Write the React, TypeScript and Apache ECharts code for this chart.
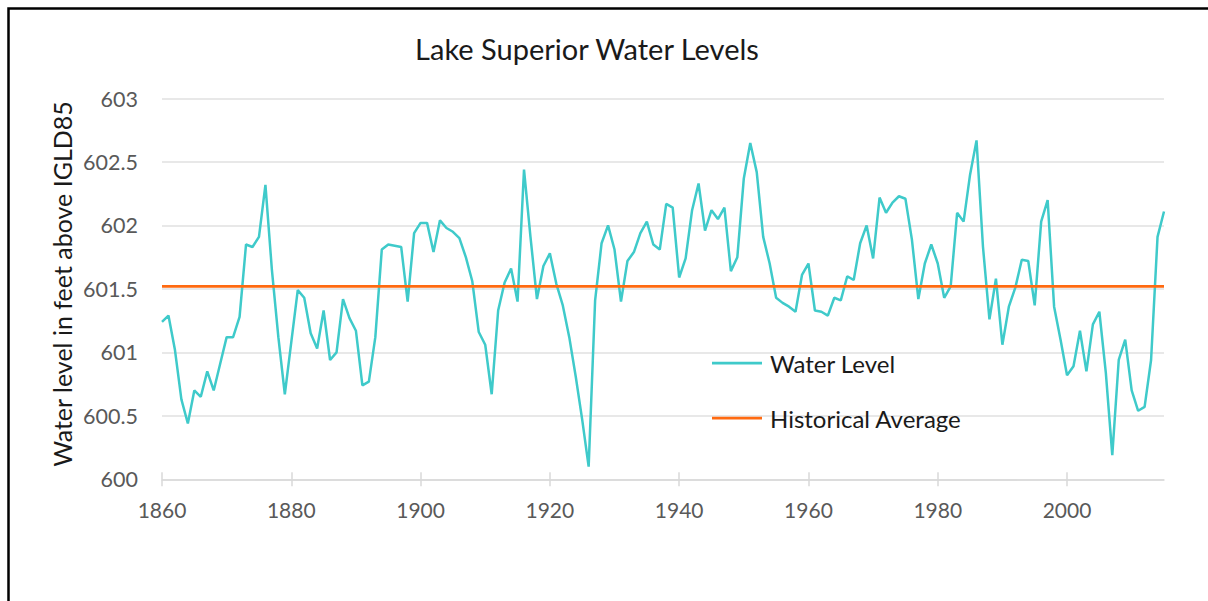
import React, { useEffect, useRef } from "react";
import * as echarts from "echarts";

const TITLE = "Lake Superior Water Levels";
const Y_AXIS_NAME = "Water level in feet above IGLD85";
const SERIES_NAMES = ["Water Level", "Historical Average"];
const START_YEAR = 1860;
const END_YEAR = 2015;
const X_TICKS = [1860, 1880, 1900, 1920, 1940, 1960, 1980, 2000];
const Y_MIN = 600;
const Y_MAX = 603;
const Y_STEP = 0.5;
const HISTORICAL_AVERAGE = 601.52;

// Annual water level, 1860..2015
const LEVELS = [
  601.24, 601.29, 601.02, 600.63, 600.44, 600.7, 600.65, 600.85, 600.7, 600.91,
  601.12, 601.12, 601.28, 601.85, 601.83, 601.91, 602.32, 601.65, 601.12, 600.67,
  601.08, 601.49, 601.43, 601.15, 601.03, 601.33, 600.94, 601.0, 601.42, 601.27,
  601.17, 600.74, 600.77, 601.12, 601.81, 601.85, 601.84, 601.83, 601.4, 601.94,
  602.02, 602.02, 601.79, 602.04, 601.98, 601.95, 601.9, 601.75, 601.56, 601.16,
  601.06, 600.67, 601.33, 601.55, 601.66, 601.4, 602.44, 601.91, 601.42, 601.68,
  601.78, 601.54, 601.37, 601.12, 600.81, 600.47, 600.1, 601.41, 601.86, 602.0,
  601.81, 601.4, 601.72, 601.79, 601.94, 602.03, 601.85, 601.81, 602.17, 602.14,
  601.59, 601.74, 602.12, 602.33, 601.96, 602.12, 602.05, 602.14, 601.64, 601.75,
  602.37, 602.65, 602.42, 601.91, 601.7, 601.43, 601.39, 601.36, 601.32, 601.61,
  601.7, 601.33, 601.32, 601.29, 601.43, 601.41, 601.6, 601.57, 601.86, 602.0,
  601.74, 602.22, 602.1, 602.18, 602.23, 602.21, 601.89, 601.42, 601.7, 601.85,
  601.7, 601.43, 601.52, 602.1, 602.03, 602.4, 602.67, 601.83, 601.26, 601.58,
  601.06, 601.36, 601.51, 601.73, 601.72, 601.37, 602.03, 602.2, 601.36, 601.1,
  600.82, 600.89, 601.17, 600.85, 601.22, 601.32, 600.84, 600.19, 600.94, 601.1,
  600.7, 600.54, 600.57, 600.94, 601.91, 602.11,
];

const YEARS = LEVELS.map((_, i) => START_YEAR + i);

const FONT = "Lato, 'Open Sans', sans-serif";

export default function App() {
  const ref = useRef<HTMLDivElement>(null);

  useEffect(() => {
    if (!ref.current) return;
    const chart = echarts.init(ref.current, undefined, { renderer: "svg" });

    chart.setOption({
      animation: false,
      backgroundColor: "#ffffff",
      textStyle: { fontFamily: FONT },
      title: {
        text: TITLE,
        left: 587,
        top: 34,
        padding: 0,
        textAlign: "center",
        textStyle: {
          fontFamily: FONT,
          fontSize: 29,
          fontWeight: "normal",
          color: "#1a1a1a",
        },
      },
      grid: {
        left: 162,
        right: 44,
        top: 98.5,
        bottom: 121.7,
        containLabel: false,
      },
      legend: {
        orient: "vertical",
        left: 712,
        top: 349,
        padding: 0,
        icon: "rect",
        itemWidth: 50,
        itemHeight: 2.75,
        itemGap: 27,
        data: SERIES_NAMES,
        textStyle: {
          fontFamily: FONT,
          fontSize: 24,
          lineHeight: 28,
          color: "#1a1a1a",
          padding: [0, 0, 0, 3],
        },
      },
      xAxis: [
        {
          type: "value",
          min: START_YEAR,
          max: END_YEAR,
          interval: 20,
          position: "bottom",
          axisLine: { show: true, lineStyle: { color: "#d9d9d9", width: 1.5 } },
          axisTick: {
            show: true,
            length: 7,
            customValues: X_TICKS,
            lineStyle: { color: "#d9d9d9", width: 1.5 },
          },
          axisLabel: {
            customValues: X_TICKS,
            formatter: (v: number) => String(v),
            margin: 20,
            fontFamily: FONT,
            fontSize: 21,
            color: "#595959",
          },
          splitLine: { show: false },
        },
        {
          type: "value",
          min: START_YEAR,
          max: END_YEAR,
          interval: 20,
          position: "bottom",
          axisLine: { show: false },
          axisTick: {
            show: true,
            inside: true,
            length: 7,
            customValues: X_TICKS,
            lineStyle: { color: "#d9d9d9", width: 1.5 },
          },
          axisLabel: { show: false },
          splitLine: { show: false },
        },
      ],
      yAxis: {
        type: "value",
        min: Y_MIN,
        max: Y_MAX,
        interval: Y_STEP,
        axisLine: { show: false },
        axisTick: { show: false },
        axisLabel: {
          margin: 24,
          fontFamily: FONT,
          fontSize: 21.5,
          color: "#595959",
        },
        splitLine: { lineStyle: { color: "#e0e0e0", width: 1.5 } },
      },
      graphic: [
        {
          type: "polyline",
          silent: true,
          shape: {
            points: [
              [8.5, 601],
              [8.5, 8.5],
              [1208, 8.5],
            ],
          },
          style: { stroke: "#000000", lineWidth: 2.5, fill: "none" },
        },
        {
          type: "text",
          silent: true,
          x: 62,
          y: 284,
          rotation: Math.PI / 2,
          style: {
            text: Y_AXIS_NAME,
            fontFamily: FONT,
            fontSize: 25,
            fill: "#1a1a1a",
            textAlign: "center",
            textVerticalAlign: "middle",
          },
        },
      ],
      series: [
        {
          name: SERIES_NAMES[0],
          type: "line",
          xAxisIndex: 0,
          data: YEARS.map((y, i) => [y, LEVELS[i]]),
          symbol: "none",
          lineStyle: { color: "#3fcaca", width: 2.5 },
          itemStyle: { color: "#3fcaca" },
        },
        {
          name: SERIES_NAMES[1],
          type: "line",
          xAxisIndex: 0,
          data: [
            [START_YEAR, HISTORICAL_AVERAGE],
            [END_YEAR, HISTORICAL_AVERAGE],
          ],
          symbol: "none",
          lineStyle: { color: "#ff6a10", width: 2.75 },
          itemStyle: { color: "#ff6a10" },
        },
      ],
    });

    return () => {
      chart.dispose();
    };
  }, []);

  return (
    <div
      ref={ref}
      style={{
        position: "fixed",
        left: 0,
        top: 0,
        width: 1208,
        height: 601,
        background: "#fff",
      }}
    />
  );
}
